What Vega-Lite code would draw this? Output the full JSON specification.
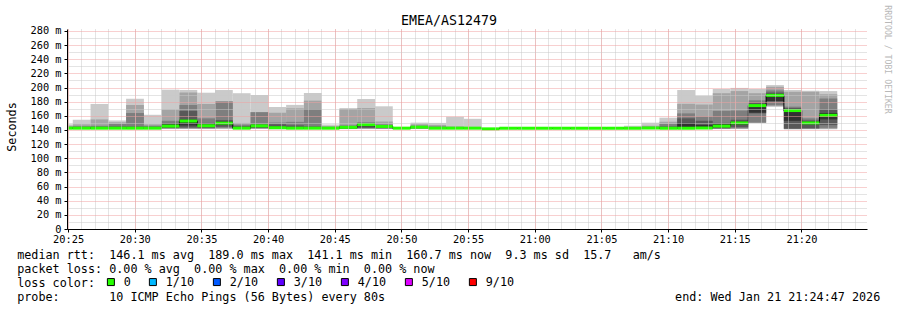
{
"$schema": "https://vega.github.io/schema/vega-lite/v6.json",
"width": 800, "height": 200,
"autosize": {"type": "none"},
"padding": {"left": 67, "top": 29, "right": 30, "bottom": 81},
"background": "#ffffff",
"config": {"view": {"stroke": null}, "axis": {"labelFont": "DejaVu Sans Mono", "titleFont": "DejaVu Sans Mono", "titleFontWeight": "normal", "labelColor": "#000000", "titleColor": "#000000"}},
"data": {"values": [
{"s":"2026-01-21T20:24:01Z","e":"2026-01-21T20:25:21Z","p1":141.2,"p2":141.5,"p3":141.8,"p4":142.1,"p5":142.4,"p6":142.9,"p7":143.5,"p8":144.5,"p9":146,"p10":148,"med":142.6,"loss":"0"},
{"s":"2026-01-21T20:25:21Z","e":"2026-01-21T20:26:41Z","p1":141.2,"p2":141.5,"p3":141.8,"p4":142.1,"p5":142.4,"p6":143,"p7":144,"p8":145.5,"p9":148,"p10":154.5,"med":142.6,"loss":"0"},
{"s":"2026-01-21T20:26:41Z","e":"2026-01-21T20:28:01Z","p1":141.2,"p2":141.5,"p3":141.8,"p4":142.1,"p5":142.4,"p6":143.5,"p7":144.5,"p8":146,"p9":155,"p10":176.8,"med":142.6,"loss":"0"},
{"s":"2026-01-21T20:28:01Z","e":"2026-01-21T20:29:21Z","p1":141.2,"p2":141.5,"p3":141.8,"p4":142.1,"p5":142.4,"p6":143.5,"p7":145,"p8":148.5,"p9":151,"p10":153.5,"med":142.6,"loss":"0"},
{"s":"2026-01-21T20:29:21Z","e":"2026-01-21T20:30:41Z","p1":141.2,"p2":141.5,"p3":141.8,"p4":142.1,"p5":142.4,"p6":143.5,"p7":145,"p8":164,"p9":175.5,"p10":184,"med":142.6,"loss":"0"},
{"s":"2026-01-21T20:30:41Z","e":"2026-01-21T20:32:01Z","p1":141.2,"p2":141.5,"p3":141.8,"p4":142.1,"p5":142.4,"p6":143.5,"p7":144.5,"p8":146,"p9":148,"p10":161.5,"med":142.6,"loss":"0"},
{"s":"2026-01-21T20:32:01Z","e":"2026-01-21T20:33:21Z","p1":141.3,"p2":141.8,"p3":142.3,"p4":143,"p5":144,"p6":148,"p7":150,"p8":153,"p9":169,"p10":197,"med":145.5,"loss":"0"},
{"s":"2026-01-21T20:33:21Z","e":"2026-01-21T20:34:41Z","p1":141.3,"p2":141.8,"p3":142.3,"p4":143.5,"p5":146.5,"p6":155,"p7":166.8,"p8":175.5,"p9":193,"p10":196.5,"med":152.7,"loss":"0"},
{"s":"2026-01-21T20:34:41Z","e":"2026-01-21T20:36:01Z","p1":141.3,"p2":141.8,"p3":142.3,"p4":143,"p5":144.5,"p6":148,"p7":150,"p8":156.5,"p9":176.8,"p10":192.7,"med":146,"loss":"0"},
{"s":"2026-01-21T20:36:01Z","e":"2026-01-21T20:37:21Z","p1":141.3,"p2":142,"p3":143,"p4":144.5,"p5":147,"p6":152,"p7":154,"p8":180,"p9":181,"p10":196.5,"med":149.7,"loss":"0"},
{"s":"2026-01-21T20:37:21Z","e":"2026-01-21T20:38:41Z","p1":141.2,"p2":141.5,"p3":141.8,"p4":142.1,"p5":142.4,"p6":144,"p7":145.5,"p8":147.5,"p9":150,"p10":192,"med":142.6,"loss":"0"},
{"s":"2026-01-21T20:38:41Z","e":"2026-01-21T20:40:01Z","p1":141.3,"p2":141.8,"p3":142.3,"p4":143,"p5":144,"p6":147,"p7":148,"p8":165,"p9":165.5,"p10":189.5,"med":145.8,"loss":"0"},
{"s":"2026-01-21T20:40:01Z","e":"2026-01-21T20:41:21Z","p1":141.2,"p2":141.5,"p3":141.8,"p4":142.1,"p5":142.4,"p6":145,"p7":148,"p8":150.5,"p9":164.5,"p10":172.5,"med":143.2,"loss":"0"},
{"s":"2026-01-21T20:41:21Z","e":"2026-01-21T20:42:41Z","p1":141.2,"p2":141.5,"p3":141.8,"p4":142.1,"p5":142.4,"p6":144,"p7":146.5,"p8":151.5,"p9":170.6,"p10":175.5,"med":142.6,"loss":"0"},
{"s":"2026-01-21T20:42:41Z","e":"2026-01-21T20:44:01Z","p1":141.2,"p2":141.5,"p3":141.8,"p4":142.1,"p5":142.4,"p6":144,"p7":145,"p8":169.5,"p9":181.5,"p10":192.3,"med":142.6,"loss":"0"},
{"s":"2026-01-21T20:44:01Z","e":"2026-01-21T20:45:21Z","p1":141.2,"p2":141.5,"p3":141.8,"p4":142.1,"p5":142.4,"p6":143,"p7":143.5,"p8":144,"p9":145.5,"p10":147.7,"med":142.6,"loss":"0"},
{"s":"2026-01-21T20:45:21Z","e":"2026-01-21T20:46:41Z","p1":141.2,"p2":141.5,"p3":141.8,"p4":142.1,"p5":142.6,"p6":145,"p7":145.5,"p8":146.5,"p9":169.5,"p10":171,"med":143.8,"loss":"0"},
{"s":"2026-01-21T20:46:41Z","e":"2026-01-21T20:48:01Z","p1":141.3,"p2":141.8,"p3":142.3,"p4":143,"p5":145,"p6":149,"p7":149.5,"p8":151,"p9":171,"p10":183.8,"med":147.6,"loss":"0"},
{"s":"2026-01-21T20:48:01Z","e":"2026-01-21T20:49:21Z","p1":141.3,"p2":141.8,"p3":142.3,"p4":142.5,"p5":143.5,"p6":146,"p7":146.5,"p8":148,"p9":152,"p10":173.5,"med":145,"loss":"0"},
{"s":"2026-01-21T20:49:21Z","e":"2026-01-21T20:50:41Z","p1":141.2,"p2":141.5,"p3":141.8,"p4":142.1,"p5":142.4,"p6":142.8,"p7":143,"p8":143.1,"p9":143.3,"p10":143.5,"med":142.6,"loss":"0"},
{"s":"2026-01-21T20:50:41Z","e":"2026-01-21T20:52:01Z","p1":141.3,"p2":141.8,"p3":142.3,"p4":142.5,"p5":143,"p6":144.5,"p7":145,"p8":146,"p9":148,"p10":150.4,"med":144,"loss":"0"},
{"s":"2026-01-21T20:52:01Z","e":"2026-01-21T20:53:21Z","p1":141.2,"p2":141.5,"p3":141.8,"p4":142.1,"p5":142.4,"p6":143.5,"p7":144,"p8":145,"p9":147,"p10":150,"med":142.6,"loss":"0"},
{"s":"2026-01-21T20:53:21Z","e":"2026-01-21T20:54:41Z","p1":141.2,"p2":141.5,"p3":141.8,"p4":142.1,"p5":142.4,"p6":143,"p7":143.5,"p8":144,"p9":145,"p10":158.7,"med":142.6,"loss":"0"},
{"s":"2026-01-21T20:54:41Z","e":"2026-01-21T20:56:01Z","p1":141.2,"p2":141.5,"p3":141.8,"p4":142.1,"p5":142.4,"p6":143,"p7":143.2,"p8":143.5,"p9":144,"p10":155.8,"med":142.6,"loss":"0"},
{"s":"2026-01-21T20:56:01Z","e":"2026-01-21T20:57:21Z","p1":141.1,"p2":141.2,"p3":141.3,"p4":141.4,"p5":141.5,"p6":141.8,"p7":142,"p8":142.1,"p9":142.3,"p10":142.5,"med":141.6,"loss":"0"},
{"s":"2026-01-21T20:57:21Z","e":"2026-01-21T20:58:41Z","p1":141.1,"p2":141.4,"p3":141.7,"p4":142,"p5":142.2,"p6":142.7,"p7":143,"p8":143.2,"p9":143.5,"p10":143.8,"med":142.5,"loss":"0"},
{"s":"2026-01-21T20:58:41Z","e":"2026-01-21T21:00:01Z","p1":141.1,"p2":141.4,"p3":141.7,"p4":142,"p5":142.2,"p6":142.7,"p7":143,"p8":143.2,"p9":143.5,"p10":143.8,"med":142.5,"loss":"0"},
{"s":"2026-01-21T21:00:01Z","e":"2026-01-21T21:01:21Z","p1":141.1,"p2":141.4,"p3":141.7,"p4":142,"p5":142.2,"p6":142.7,"p7":143,"p8":143.2,"p9":143.5,"p10":143.8,"med":142.5,"loss":"0"},
{"s":"2026-01-21T21:01:21Z","e":"2026-01-21T21:02:41Z","p1":141.1,"p2":141.4,"p3":141.7,"p4":142,"p5":142.2,"p6":142.7,"p7":143,"p8":143.2,"p9":143.5,"p10":143.8,"med":142.5,"loss":"0"},
{"s":"2026-01-21T21:02:41Z","e":"2026-01-21T21:04:01Z","p1":141.1,"p2":141.4,"p3":141.7,"p4":142,"p5":142.2,"p6":142.7,"p7":143,"p8":143.2,"p9":143.5,"p10":143.8,"med":142.5,"loss":"0"},
{"s":"2026-01-21T21:04:01Z","e":"2026-01-21T21:05:21Z","p1":141.1,"p2":141.4,"p3":141.7,"p4":142,"p5":142.2,"p6":142.7,"p7":143,"p8":143.2,"p9":143.5,"p10":143.8,"med":142.5,"loss":"0"},
{"s":"2026-01-21T21:05:21Z","e":"2026-01-21T21:06:41Z","p1":141.1,"p2":141.4,"p3":141.7,"p4":142,"p5":142.2,"p6":142.7,"p7":143,"p8":143.2,"p9":143.6,"p10":144.2,"med":142.5,"loss":"0"},
{"s":"2026-01-21T21:06:41Z","e":"2026-01-21T21:08:01Z","p1":141.1,"p2":141.4,"p3":141.7,"p4":142,"p5":142.2,"p6":142.8,"p7":143.1,"p8":143.5,"p9":144,"p10":146,"med":142.5,"loss":"0"},
{"s":"2026-01-21T21:08:01Z","e":"2026-01-21T21:09:21Z","p1":141.2,"p2":141.5,"p3":141.8,"p4":142.1,"p5":142.4,"p6":143,"p7":143.5,"p8":144.5,"p9":146,"p10":150.3,"med":142.8,"loss":"0"},
{"s":"2026-01-21T21:09:21Z","e":"2026-01-21T21:10:41Z","p1":141.2,"p2":141.5,"p3":141.8,"p4":142.1,"p5":142.4,"p6":144,"p7":145,"p8":148.5,"p9":151.7,"p10":157.4,"med":142.5,"loss":"0"},
{"s":"2026-01-21T21:10:41Z","e":"2026-01-21T21:12:01Z","p1":141.2,"p2":141.5,"p3":141.8,"p4":142.1,"p5":142.4,"p6":150,"p7":156.5,"p8":163.5,"p9":177,"p10":196.5,"med":142.5,"loss":"0"},
{"s":"2026-01-21T21:12:01Z","e":"2026-01-21T21:13:21Z","p1":141.2,"p2":141.5,"p3":141.8,"p4":142.1,"p5":142.4,"p6":147,"p7":153,"p8":159,"p9":176,"p10":188.5,"med":142.8,"loss":"0"},
{"s":"2026-01-21T21:13:21Z","e":"2026-01-21T21:14:41Z","p1":141.2,"p2":141.5,"p3":142,"p4":142.5,"p5":144,"p6":148.5,"p7":150,"p8":167,"p9":192,"p10":198,"med":145.5,"loss":"0"},
{"s":"2026-01-21T21:14:41Z","e":"2026-01-21T21:16:01Z","p1":141.3,"p2":141.8,"p3":142.5,"p4":144,"p5":147,"p6":152,"p7":154.5,"p8":167.5,"p9":195,"p10":199.5,"med":150,"loss":"0"},
{"s":"2026-01-21T21:16:01Z","e":"2026-01-21T21:17:21Z","p1":150,"p2":150.2,"p3":150.5,"p4":163.5,"p5":164.5,"p6":176.5,"p7":178.5,"p8":182,"p9":192,"p10":198,"med":174.5,"loss":"0"},
{"s":"2026-01-21T21:17:21Z","e":"2026-01-21T21:18:41Z","p1":173,"p2":173.5,"p3":175,"p4":180,"p5":181,"p6":191,"p7":193,"p8":196,"p9":201,"p10":203.5,"med":189,"loss":"0"},
{"s":"2026-01-21T21:18:41Z","e":"2026-01-21T21:20:01Z","p1":141,"p2":141.2,"p3":141.5,"p4":142,"p5":153,"p6":169,"p7":171,"p8":173,"p9":194,"p10":196.5,"med":167.5,"loss":"0"},
{"s":"2026-01-21T21:20:01Z","e":"2026-01-21T21:21:21Z","p1":141,"p2":141.5,"p3":142,"p4":142.5,"p5":148,"p6":152,"p7":153.5,"p8":156.5,"p9":194,"p10":195.5,"med":150,"loss":"0"},
{"s":"2026-01-21T21:21:21Z","e":"2026-01-21T21:22:41Z","p1":141,"p2":141.5,"p3":143,"p4":147,"p5":155,"p6":164,"p7":169,"p8":184.5,"p9":190.5,"p10":195,"med":160.7,"loss":"0"}
]},
"resolve": {"axis": {"x": "independent", "y": "independent"}},
"layer": [
 {"mark": {"type": "rect", "color": "#cacaca", "clip": true},
  "encoding": {
   "x": {"field": "s", "type": "temporal", "scale": {"type": "utc", "domain": [1769027095000, 1769030695000]},
         "axis": {"orient": "bottom", "values": [1769027100000,1769027160000,1769027220000,1769027280000,1769027340000,1769027400000,1769027460000,1769027520000,1769027580000,1769027640000,1769027700000,1769027760000,1769027820000,1769027880000,1769027940000,1769028000000,1769028060000,1769028120000,1769028180000,1769028240000,1769028300000,1769028360000,1769028420000,1769028480000,1769028540000,1769028600000,1769028660000,1769028720000,1769028780000,1769028840000,1769028900000,1769028960000,1769029020000,1769029080000,1769029140000,1769029200000,1769029260000,1769029320000,1769029380000,1769029440000,1769029500000,1769029560000,1769029620000,1769029680000,1769029740000,1769029800000,1769029860000,1769029920000,1769029980000,1769030040000,1769030100000,1769030160000,1769030220000,1769030280000,1769030340000,1769030400000,1769030460000,1769030520000,1769030580000,1769030640000], "labels": false, "ticks": false, "domain": false, "grid": true, "gridColor": "#c8c8c8", "gridDash": [1, 1], "gridWidth": 1, "title": null, "zindex": 1}},
   "x2": {"field": "e"},
   "y": {"field": "p1", "type": "quantitative", "scale": {"domain": [0, 282.8], "nice": false, "zero": true},
         "axis": {"orient": "left", "values": [10, 30, 50, 70, 90, 110, 130, 150, 170, 190, 210, 230, 250, 270], "labels": false, "ticks": false, "domain": false, "grid": true, "gridColor": "#c8c8c8", "gridDash": [1, 1], "gridWidth": 1, "title": null, "zindex": 1}},
   "y2": {"field": "p10"}}},
 {"mark": {"type": "rect", "color": "#a4a4a4", "clip": true},
  "encoding": {
   "x": {"field": "s", "type": "temporal", "scale": {"type": "utc", "domain": [1769027095000, 1769030695000]},
         "axis": {"orient": "bottom", "values": [1769027100000,1769027400000,1769027700000,1769028000000,1769028300000,1769028600000,1769028900000,1769029200000,1769029500000,1769029800000,1769030100000,1769030400000], "format": "%H:%M", "labelFontSize": 10.3, "labelPadding": 2, "labelFlush": false, "labelOverlap": false, "tickSize": 3, "tickColor": "#000000", "domain": true, "domainColor": "#000000", "grid": true, "gridColor": "#f0a0a0", "gridDash": [1, 1], "gridWidth": 1, "zindex": 1,
                  "title": ["median\u00a0rtt:\u00a0\u00a0146.1\u00a0ms\u00a0avg\u00a0\u00a0189.0\u00a0ms\u00a0max\u00a0\u00a0141.1\u00a0ms\u00a0min\u00a0\u00a0160.7\u00a0ms\u00a0now\u00a0\u00a09.3\u00a0ms\u00a0sd\u00a0\u00a015.7\u00a0\u00a0\u00a0am/s",
                            "packet\u00a0loss:\u00a00.00\u00a0%\u00a0avg\u00a0\u00a00.00\u00a0%\u00a0max\u00a0\u00a00.00\u00a0%\u00a0min\u00a0\u00a00.00\u00a0%\u00a0now",
                            "loss\u00a0color:",
                            "probe:\u00a0\u00a0\u00a0\u00a0\u00a0\u00a0\u00a010\u00a0ICMP\u00a0Echo\u00a0Pings\u00a0(56\u00a0Bytes)\u00a0every\u00a080s\u00a0\u00a0\u00a0\u00a0\u00a0\u00a0\u00a0\u00a0\u00a0\u00a0\u00a0\u00a0\u00a0\u00a0\u00a0\u00a0\u00a0\u00a0\u00a0\u00a0\u00a0\u00a0\u00a0\u00a0\u00a0\u00a0\u00a0\u00a0\u00a0\u00a0\u00a0\u00a0\u00a0\u00a0\u00a0\u00a0\u00a0\u00a0\u00a0\u00a0\u00a0end:\u00a0Wed\u00a0Jan\u00a021\u00a021:24:47\u00a02026"],
                  "titleX": -50.3, "titleY": 29.3, "titleAlign": "left", "titleAnchor": "start", "titleBaseline": "alphabetic", "titleAngle": 0, "titleFontSize": 11.75, "titleLineHeight": 14.2, "titleLimit": 2000}},
   "x2": {"field": "e"},
   "y": {"field": "p2", "type": "quantitative", "scale": {"domain": [0, 282.8], "nice": false, "zero": true},
         "axis": {"orient": "left", "values": [0, 20, 40, 60, 80, 100, 120, 140, 160, 180, 200, 220, 240, 260, 280], "labelExpr": "datum.value == 0 ? '0' : datum.value + ' m'", "labelFontSize": 10.3, "labelPadding": 3, "tickSize": 3, "tickColor": "#000000", "domain": true, "domainColor": "#000000", "grid": true, "gridColor": "#f0a0a0", "gridDash": [1, 1], "gridWidth": 1, "zindex": 1,
                  "title": "Seconds", "titleX": -56, "titleY": 97.5, "titleAngle": -90, "titleAlign": "center", "titleBaseline": "middle", "titleFontSize": 11.75}},
   "y2": {"field": "p9"}}},
 {"mark": {"type": "rect", "color": "#7e7e7e", "clip": true},
  "encoding": {
   "x": {"field": "s", "type": "temporal", "scale": {"type": "utc", "domain": [1769027095000, 1769030695000]},
         "axis": {"orient": "top", "values": [1769027100000], "labels": false, "ticks": false, "domain": false, "grid": false, "title": "EMEA/AS12479", "titleX": 381.5, "titleY": -5, "titleAlign": "center", "titleBaseline": "alphabetic", "titleAngle": 0, "titleFontSize": 13.3}},
   "x2": {"field": "e"},
   "y": {"field": "p3", "type": "quantitative", "scale": {"domain": [0, 282.8], "nice": false, "zero": true},
         "axis": {"orient": "right", "values": [0], "labels": false, "ticks": false, "domain": false, "grid": false, "title": "RRDTOOL / TOBI OETIKER", "titleX": 19, "titleY": 30, "titleAngle": 90, "titleAlign": "center", "titleBaseline": "middle", "titleFontSize": 8.2, "titleColor": "#b8b8b8"}},
   "y2": {"field": "p8"}}},
 {"mark": {"type": "rect", "color": "#585858", "clip": true},
  "encoding": {
   "x": {"field": "s", "type": "temporal", "scale": {"type": "utc", "domain": [1769027095000, 1769030695000]}, "axis": null},
   "x2": {"field": "e"},
   "y": {"field": "p4", "type": "quantitative", "scale": {"domain": [0, 282.8], "nice": false, "zero": true}, "axis": null},
   "y2": {"field": "p7"}}},
 {"mark": {"type": "rect", "color": "#323232", "clip": true},
  "encoding": {
   "x": {"field": "s", "type": "temporal", "scale": {"type": "utc", "domain": [1769027095000, 1769030695000]}, "axis": null},
   "x2": {"field": "e"},
   "y": {"field": "p5", "type": "quantitative", "scale": {"domain": [0, 282.8], "nice": false, "zero": true}, "axis": null},
   "y2": {"field": "p6"}}},
 {"mark": {"type": "line", "interpolate": "step-after", "color": "#000000", "strokeWidth": 1, "clip": true},
  "encoding": {
   "x": {"field": "s", "type": "temporal", "scale": {"type": "utc", "domain": [1769027095000, 1769030695000]}, "axis": null},
   "y": {"field": "med", "type": "quantitative", "scale": {"domain": [0, 282.8], "nice": false, "zero": true}, "axis": null}}},
 {"mark": {"type": "rule", "strokeWidth": 3, "color": "#26ff00", "clip": true},
  "encoding": {
   "x": {"field": "s", "type": "temporal", "scale": {"type": "utc", "domain": [1769027095000, 1769030695000]}, "axis": null},
   "x2": {"field": "e"},
   "y": {"field": "med", "type": "quantitative", "scale": {"domain": [0, 282.8], "nice": false, "zero": true}, "axis": null}}},
 {"mark": {"type": "square", "filled": true, "size": 0, "opacity": 1, "clip": true},
  "encoding": {
   "x": {"field": "s", "type": "temporal", "scale": {"type": "utc", "domain": [1769027095000, 1769030695000]}, "axis": null},
   "y": {"field": "med", "type": "quantitative", "scale": {"domain": [0, 282.8], "nice": false, "zero": true}, "axis": null},
   "color": {"field": "loss", "type": "nominal",
     "scale": {"domain": ["0", "1/10", "2/10", "3/10", "4/10", "5/10", "9/10"], "range": ["#26ff00", "#00b8ff", "#0059ff", "#5e00ff", "#7e00ff", "#dd00ff", "#ff0000"]},
     "legend": {"orient": "none", "legendX": 38, "legendY": 247, "direction": "horizontal", "title": null, "padding": 0,
       "symbolType": "square", "symbolSize": 49, "symbolStrokeColor": "#000000", "symbolStrokeWidth": 1, "symbolOpacity": 1,
       "labelFont": "DejaVu Sans Mono", "labelFontSize": 11.75, "labelColor": "#000000", "labelOffset": 7, "columnPadding": 16}}}}
]
}
